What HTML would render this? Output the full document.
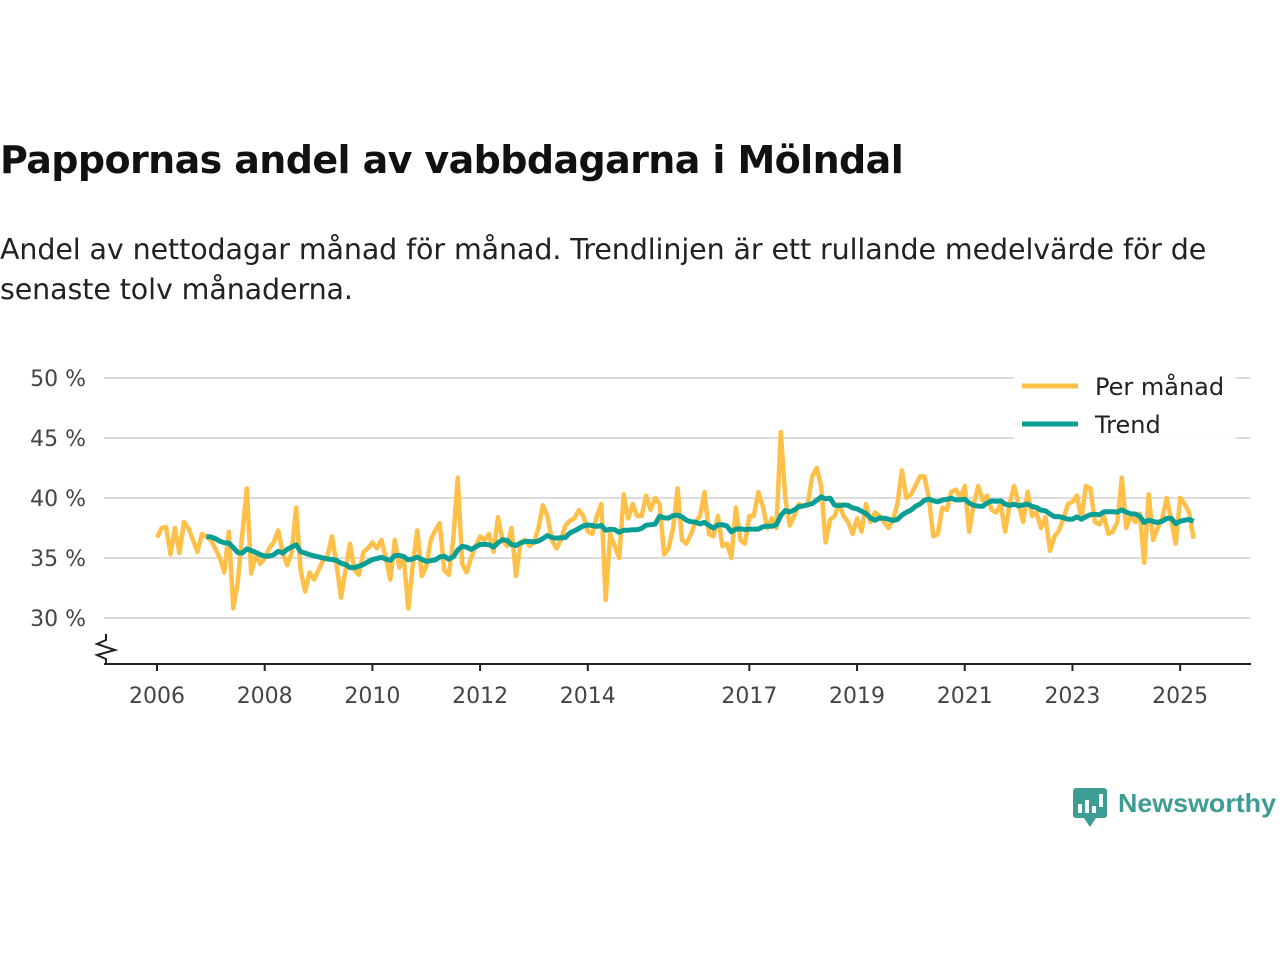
<!DOCTYPE html>
<html><head><meta charset="utf-8"><style>
body{margin:0;background:#fff;font-family:"Liberation Sans","DejaVu Sans",sans-serif;}
#wrap{position:relative;width:1280px;height:960px;overflow:hidden}
h1{position:absolute;left:0;top:138px;margin:0;font-size:38px;font-weight:bold;color:#111;font-family:"DejaVu Sans","Liberation Sans",sans-serif;letter-spacing:-0.6px}
p{position:absolute;left:0;top:230px;margin:0;font-size:28.5px;line-height:40px;color:#222;width:1240px;font-family:"DejaVu Sans","Liberation Sans",sans-serif;letter-spacing:-0.1px}
</style></head><body><div id="wrap">
<h1>Pappornas andel av vabbdagarna i Mölndal</h1>
<p>Andel av nettodagar månad för månad. Trendlinjen är ett rullande medelvärde för de senaste tolv månaderna.</p>
<svg id="chart" width="1280" height="960" style="position:absolute;left:0;top:0"></svg>
</div>
<script>
const startYear = 2006;
const monthly = [
36.7,37.5,37.6,35.3,37.5,35.4,38,37.5,36.5,35.5,37,36.8,
36.5,35.8,35,33.8,37.2,30.8,33,37,40.8,33.7,35.3,34.5,
35,35.8,36.3,37.3,35.5,34.4,35.4,39.2,34,32.2,33.8,33.2,
34,34.8,35.2,36.8,34.5,31.7,34,36.2,34,33.6,35.5,35.8,
36.3,35.8,36.5,35,33.2,36.5,34.2,35,30.8,34.5,37.3,33.5,
34.3,36.5,37.3,37.9,34,33.6,36.5,41.7,34.5,33.8,35,36,
36.8,36.5,37,35.5,38.4,36.5,36,37.5,33.5,36.3,36.5,36,
36.3,37.5,39.4,38.5,36.5,35.8,36.5,37.7,38.1,38.3,39,38.5,
37.2,37,38.5,39.5,31.5,37,36,35,40.3,38.3,39.5,38.5,
38.5,40.2,39,40,39.5,35.3,35.8,37.5,40.8,36.5,36.2,37,
38,38.5,40.5,37,36.8,38.5,36,36.2,35,39.2,36.5,36.2,
38.5,38.5,40.5,39.3,37.5,38.3,37.5,45.5,40,37.7,38.5,39.5,
39.3,39.5,41.8,42.5,41,36.3,38.2,38.5,39.5,38.5,38,37,
38.3,37.2,39.5,38,38.8,38.5,38,37.5,38.2,39.5,42.3,40,
40.3,41,41.8,41.8,40,36.8,37,39.2,39,40.5,40.7,40,
41,37.2,39.5,41,39.8,40.2,39,38.8,39.5,37.2,39.5,41,
39.5,38,40.5,38.5,38.8,37.5,38.4,35.6,36.8,37.3,38.3,39.5,
39.7,40.2,38.2,41,40.8,38,37.8,38.5,37,37.2,38,41.7,
37.5,38.5,38,38.7,34.6,40.3,36.5,37.5,38.3,40,38.2,36.2,
40,39.5,38.8,36.6];
const xTicks = [2006,2008,2010,2012,2014,2017,2019,2021,2023,2025];
const yTicks = [30,35,40,45,50];
const legendLabels = ["Per månad","Trend"];

const NS="http://www.w3.org/2000/svg", svg=document.getElementById('chart');
function X(t){return 157+(t-2006)*53.85;}
function Y(v){return 618-(v-30)*12;}
function mk(tag,a,txt){const e=document.createElementNS(NS,tag);for(const k in a)e.setAttribute(k,a[k]);if(txt!==undefined)e.textContent=txt;svg.appendChild(e);return e;}

yTicks.forEach(v=>{
  const g=mk('line',{x1:104,x2:1250,y1:Y(v),y2:Y(v),stroke:'#dcdcdc','stroke-width':2});
  
  
  const t=mk('text',{x:86,y:Y(v)+8,'text-anchor':'end','font-size':22,fill:'#444','font-family':'DejaVu Sans, Liberation Sans, sans-serif'},v+' %');
  
  
});
const ax=mk('line',{x1:104,x2:1251,y1:664,y2:664,stroke:'#222','stroke-width':2});


const br=mk('path',{d:'M106,634 L106,640 L97,644 L115,650 L97,655 L106,659 L106,664',fill:'none',stroke:'#222','stroke-width':2});


xTicks.forEach(yr=>{
  const l=mk('line',{x1:X(yr),x2:X(yr),y1:664,y2:671,stroke:'#222','stroke-width':2});
  
  
  const t=mk('text',{x:X(yr),y:703,'text-anchor':'middle','font-size':22,fill:'#444','font-family':'DejaVu Sans, Liberation Sans, sans-serif'},yr);
  
  
});
const mpts=monthly.map((v,i)=>X(startYear+i/12).toFixed(1)+','+Y(v).toFixed(1));
const ml=mk('polyline',{points:mpts.join(' '),fill:'none',stroke:'#ffc04a','stroke-width':4.5,'stroke-linejoin':'round'});


const tpts=[];
for(let i=11;i<monthly.length;i++){let s=0;for(let j=i-11;j<=i;j++)s+=monthly[j];tpts.push(X(startYear+i/12).toFixed(1)+','+Y(s/12).toFixed(1));}
const tl=mk('polyline',{points:tpts.join(' '),fill:'none',stroke:'#0a9e94','stroke-width':5,'stroke-linejoin':'round'});


const lb=mk('rect',{x:1014,y:368,width:222,height:72,fill:'#fff',opacity:0.9});


[['#ffc04a',386],['#0a9e94',424]].forEach((c,i)=>{
  const l=mk('line',{x1:1022,x2:1078,y1:c[1],y2:c[1],stroke:c[0],'stroke-width':5});
  
  
  const t=mk('text',{x:1095,y:c[1]+9,'font-size':24,fill:'#222','font-family':'DejaVu Sans, Liberation Sans, sans-serif'},legendLabels[i]);
  
  
});
const lg=mk('g',{});


lg.innerHTML='<rect x="1073" y="788" width="34" height="30" rx="3" fill="#3d9c93"/><path d="M1084,818 L1090,827 L1096,818 Z" fill="#3d9c93"/><rect x="1078" y="804" width="4" height="9" fill="#fff"/><rect x="1085" y="800" width="4" height="13" fill="#fff"/><rect x="1092" y="806" width="4" height="7" fill="#fff"/><rect x="1099" y="794" width="4" height="13" fill="#fff"/><text x="1118" y="812" font-size="26" font-weight="bold" fill="#3d9c93" font-family="Liberation Sans, DejaVu Sans, sans-serif" textLength="158" lengthAdjust="spacingAndGlyphs">Newsworthy</text>';
</script>
</body></html>
